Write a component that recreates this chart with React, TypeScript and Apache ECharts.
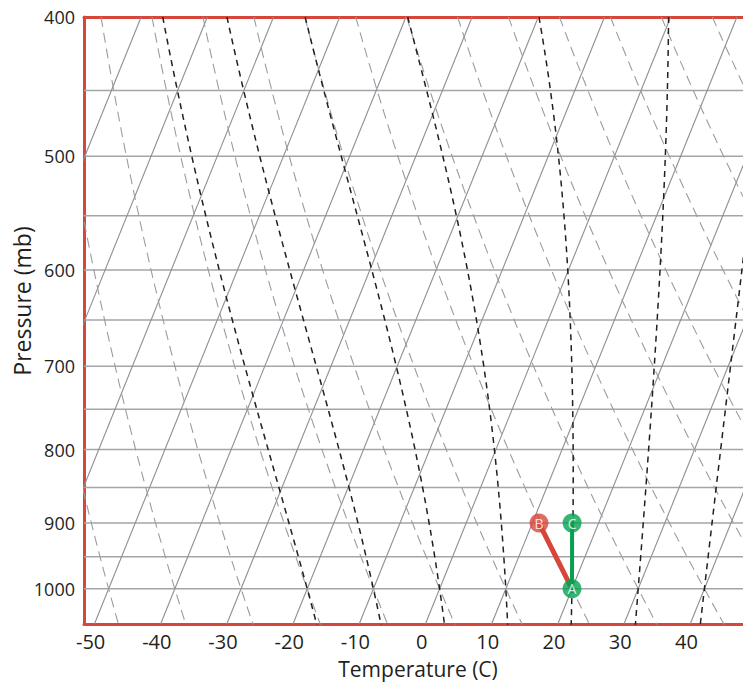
import React, { useEffect, useRef } from "react";
import * as echarts from "echarts";

// ---- data ----
const TEMP_TICKS = [-50, -40, -30, -20, -10, 0, 10, 20, 30, 40];
const PRESSURE_TICKS = [400, 500, 600, 700, 800, 900, 1000];
const ISOBARS = [450, 500, 550, 600, 650, 700, 750, 800, 850, 900, 950, 1000];
const ISOTHERMS = [-80, -70, -60, -50, -40, -30, -20, -10, 0, 10, 20, 30, 40];
// dry adiabats, potential temperature (°C)
const DRY_ADIABATS = [-50, -40, -30, -20, -10, 0, 10, 20, 30, 40, 50, 60, 70, 80, 90];
// saturated adiabats, wet-bulb potential temperature (°C)
const MOIST_ADIABATS = [-20, -10, 0, 10, 20, 30, 40];
const PARCEL_NAMES = ["A", "B", "C"];
const PARCEL_TEMPS = [20, 11, 16];
const PARCEL_PRESSURES = [1000, 900, 900];

// ---- diagram definition (skew-T / log-p) ----
const P_TOP = 400;
const P_BOTTOM = 1058;
const SKEW = 38.1;
const P_REF = 1074;
const X_MIN = -51.0;
const X_MAX = 49.76;

const skewX = (t: number, p: number) => t + SKEW * Math.log(P_REF / p);
const lp = (p: number) => Math.log(p);

const LEVELS: number[] = [];
for (let p = P_TOP; p <= 1060; p += 10) LEVELS.push(p);

function dryLine(thetaC: number) {
  const th = thetaC + 273.15;
  return LEVELS.map((p) => {
    const t = th * Math.pow(p / 1000, 0.286) - 273.15;
    return [skewX(t, p), lp(p)];
  });
}

function moistRate(T: number, p: number) {
  const Rd = 287.04, cp = 1005.7, Lv = 2.501e6, eps = 0.622;
  const tc = T - 273.15;
  const es = 6.112 * Math.exp((17.67 * tc) / (tc + 243.5));
  const rs = (eps * es) / (p - es);
  return (Rd * T + Lv * rs) / (p * (cp + (Lv * Lv * rs * eps) / (Rd * T * T)));
}

function moistLine(thwC: number) {
  const temps = new Map<number, number>();
  const run = (dir: number, stop: number) => {
    let T = thwC + 273.15;
    let p = 1000;
    temps.set(1000, T);
    while ((dir < 0 && p > stop) || (dir > 0 && p < stop)) {
      const h = dir;
      const k1 = moistRate(T, p);
      const k2 = moistRate(T + 0.5 * h * k1, p + 0.5 * h);
      const k3 = moistRate(T + 0.5 * h * k2, p + 0.5 * h);
      const k4 = moistRate(T + h * k3, p + h);
      T += (h * (k1 + 2 * k2 + 2 * k3 + k4)) / 6;
      p += h;
      if (p % 10 === 0) temps.set(p, T);
    }
  };
  run(-1, P_TOP);
  run(1, 1060);
  return LEVELS.filter((p) => temps.has(p)).map((p) => [skewX((temps.get(p) as number) - 273.15, p), lp(p)]);
}

const RED = "#d7463a";
const GREEN = "#05a14f";
const TEXT = "#231f20";
const FONT = "'Open Sans', 'Noto Sans', sans-serif";

export default function App() {
  const ref = useRef<HTMLDivElement>(null);
  useEffect(() => {
    if (!ref.current) return;
    const chart = echarts.init(ref.current, undefined, { renderer: "svg" });

    const series: any[] = [];
    ISOBARS.forEach((p) =>
      series.push({
        type: "line",
        data: [[X_MIN, lp(p)], [X_MAX, lp(p)]],
        showSymbol: false,
        silent: true,
        lineStyle: { color: "#a3a5a9", width: 1.5 },
        z: 1,
      })
    );
    ISOTHERMS.forEach((t) =>
      series.push({
        type: "line",
        data: [[skewX(t, P_TOP), lp(P_TOP)], [skewX(t, P_BOTTOM), lp(P_BOTTOM)]],
        showSymbol: false,
        silent: true,
        lineStyle: { color: "#8d8f94", width: 1.1 },
        z: 2,
      })
    );
    DRY_ADIABATS.forEach((th) =>
      series.push({
        type: "line",
        data: dryLine(th),
        showSymbol: false,
        silent: true,
        lineStyle: { color: "#9a9ca1", width: 1.1, type: [10, 6] },
        z: 2,
      })
    );
    MOIST_ADIABATS.forEach((tw) =>
      series.push({
        type: "line",
        data: moistLine(tw),
        showSymbol: false,
        silent: true,
        lineStyle: { color: "#231f20", width: 1.5, type: [6, 5] },
        z: 3,
      })
    );
    const pts = PARCEL_NAMES.map((n, i) => [skewX(PARCEL_TEMPS[i], PARCEL_PRESSURES[i]), lp(PARCEL_PRESSURES[i])]);
    series.push({
      type: "line",
      data: [pts[0], pts[1]],
      showSymbol: false,
      lineStyle: { color: RED, width: 5 },
      z: 5,
    });
    series.push({
      type: "line",
      data: [pts[0], pts[2]],
      showSymbol: false,
      lineStyle: { color: GREEN, width: 4 },
      z: 5,
    });
    series.push({
      type: "scatter",
      symbol: "circle",
      symbolSize: 19,
      z: 6,
      data: PARCEL_NAMES.map((n, i) => ({
        value: pts[i],
        name: n,
        itemStyle: { color: n === "B" ? RED : GREEN },
      })),
      label: {
        show: true,
        position: "inside",
        formatter: (d: any) => d.name,
        color: "#ffffff",
        fontSize: 14,
        fontFamily: FONT,
      },
    });

    const redLine = { show: true, onZero: false, lineStyle: { color: RED, width: 3 } };

    chart.setOption({
      animation: false,
      textStyle: { fontFamily: FONT },
      grid: {
        left: 84,
        right: -8,
        top: 17,
        bottom: 61,
        outerBoundsMode: "none",
        containLabel: false,
      },
      xAxis: [
        {
          type: "value",
          min: X_MIN,
          max: X_MAX,
          axisLine: redLine,
          axisTick: { show: false },
          splitLine: { show: false },
          axisLabel: {
            customValues: TEMP_TICKS,
            color: TEXT,
            fontSize: 20,
            margin: 7,
            fontFamily: FONT,
            formatter: (v: number) => String(Math.round(v)),
          },
        },
        {
          type: "value",
          position: "top",
          min: X_MIN,
          max: X_MAX,
          axisLine: redLine,
          axisTick: { show: false },
          axisLabel: { show: false },
          splitLine: { show: false },
        },
      ],
      yAxis: {
        type: "value",
        inverse: true,
        min: lp(P_TOP),
        max: lp(P_BOTTOM),
        axisLine: redLine,
        axisTick: { show: false },
        splitLine: { show: false },
        axisLabel: {
          customValues: PRESSURE_TICKS.map(lp),
          color: TEXT,
          fontSize: 18,
          margin: 9,
          fontFamily: FONT,
          formatter: (v: number) => String(Math.round(Math.exp(v))),
        },
      },
      graphic: [
        {
          type: "text",
          x: 418,
          y: 669,
          style: {
            text: "Temperature (C)",
            fontSize: 21,
            fontFamily: FONT,
            fill: TEXT,
            align: "center",
            verticalAlign: "middle",
            textAlign: "center",
            textVerticalAlign: "middle",
          },
        },
        {
          type: "text",
          x: 22,
          y: 301,
          rotation: Math.PI / 2,
          style: {
            text: "Pressure (mb)",
            fontSize: 23,
            fontFamily: FONT,
            fill: TEXT,
            align: "center",
            verticalAlign: "middle",
            textAlign: "center",
            textVerticalAlign: "middle",
          },
        },
      ],
      series,
    });
    return () => chart.dispose();
  }, []);
  return (
    <div
      ref={ref}
      style={{ position: "absolute", left: 0, top: 0, width: 743, height: 685, background: "#ffffff" }}
    />
  );
}
